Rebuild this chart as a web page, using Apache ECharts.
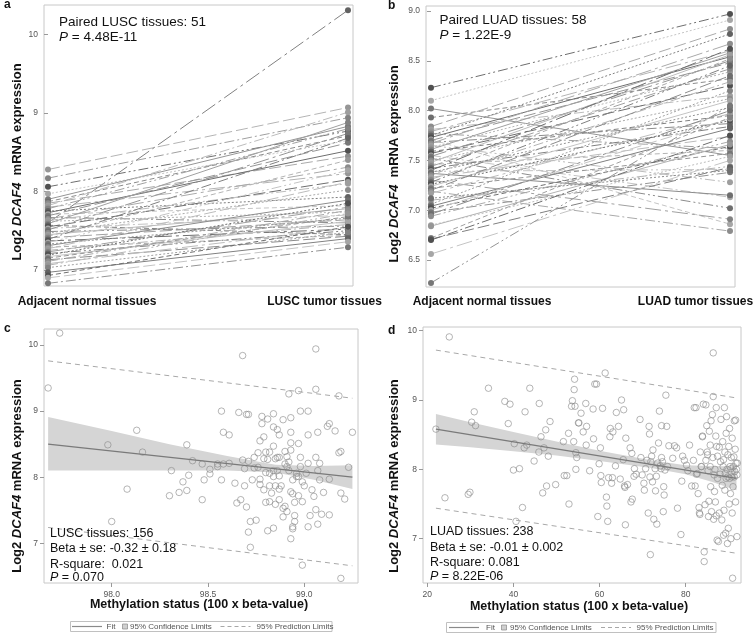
<!DOCTYPE html>
<html><head><meta charset="utf-8">
<script src="https://cdn.jsdelivr.net/npm/echarts@6/dist/echarts.min.js"></script>
<style>html,body{margin:0;padding:0;background:#fff}#c{width:755px;height:634px}</style>
</head><body><div id="c"></div>
<script>
// ---------- data ----------
const groups = ['Adjacent normal tissues', 'LUSC tumor tissues', 'LUAD tumor tissues'];

const luscNormal = [8.28,8.17,7.60,8.06,7.97,7.90,7.87,7.85,7.82,7.80,7.78,7.75,7.73,7.71,7.69,7.67,7.65,7.63,7.62,7.59,7.57,7.55,7.53,7.51,7.49,7.47,7.45,7.43,7.41,7.39,7.37,7.35,7.33,7.31,7.29,7.27,7.25,7.23,7.21,7.19,7.17,7.15,7.13,7.11,7.08,7.06,7.03,6.97,6.93,6.90,6.83];
const luscTumor  = [9.07,8.94,10.31,8.77,8.65,8.83,8.71,8.45,9.01,8.23,8.80,7.93,8.52,7.82,8.62,7.60,8.31,8.10,7.74,8.88,7.45,8.15,7.70,8.74,7.56,8.02,7.78,8.40,7.64,8.68,7.52,8.27,7.66,7.89,7.44,8.12,7.58,7.80,7.50,7.85,7.62,7.68,7.43,7.76,7.54,7.72,7.48,7.40,7.55,7.36,7.29];

const luadNormal = [8.23,8.10,8.02,7.93,7.84,7.81,7.79,7.77,7.75,7.73,7.71,7.70,7.68,7.67,7.65,7.63,7.61,7.59,7.57,7.55,7.54,7.52,7.50,7.48,7.46,7.44,7.42,7.40,7.39,7.38,7.37,7.35,7.33,7.31,7.30,7.28,7.26,7.24,7.22,7.20,7.19,7.17,7.10,7.06,7.04,7.02,7.00,6.98,6.96,6.94,6.85,6.84,6.72,6.71,6.70,6.56,6.27,7.12];
const luadTumor  = [8.97,8.91,7.55,8.32,8.82,8.15,8.60,7.62,8.77,8.54,6.86,8.48,7.87,8.67,7.28,8.39,8.58,7.95,8.25,7.13,8.50,7.02,8.12,8.56,7.60,8.42,7.84,8.62,7.41,8.03,7.15,8.52,7.74,8.29,6.91,8.45,7.90,8.10,7.57,8.35,6.79,7.97,7.44,8.20,7.82,7.64,7.92,7.38,8.00,7.69,7.54,7.66,7.93,7.43,7.75,7.50,8.05,7.40];

const luscMeth = [[97.73,10.18],[97.67,9.35],[97.98,8.49],[98.13,8.71],[98.16,8.38],[98.08,7.82],[98.00,7.33],[98.30,7.72],[98.31,8.10],[98.35,7.77],[98.37,7.93],[98.39,7.80],[98.39,8.49],[98.40,8.03],[98.42,8.25],[98.47,7.66],[98.47,8.20],[98.48,7.96],[98.51,8.05],[98.51,8.12],[98.55,8.16],[98.55,8.20],[98.57,7.96],[98.58,8.20],[98.57,9.00],[98.58,8.68],[98.61,8.64],[98.61,8.21],[98.64,7.91],[98.65,7.61],[98.66,8.98],[98.67,7.66],[98.68,9.84],[98.68,8.26],[98.69,8.13],[98.69,7.87],[98.70,8.95],[98.70,7.55],[98.71,8.95],[98.71,7.17],[98.72,7.33],[98.72,6.94],[98.73,7.96],[98.74,8.30],[98.75,7.35],[98.76,8.37],[98.76,8.15],[98.77,7.97],[98.77,7.89],[98.77,8.55],[98.78,8.81],[98.78,8.92],[98.79,8.28],[98.79,8.61],[98.80,8.38],[98.80,8.07],[98.80,7.62],[98.81,8.27],[98.81,7.19],[98.81,8.88],[98.82,7.63],[98.82,7.87],[98.82,8.38],[98.83,7.76],[98.84,7.23],[98.84,8.96],[98.84,8.76],[98.84,8.47],[98.84,8.10],[98.85,8.28],[98.85,7.59],[98.85,7.87],[98.86,8.10],[98.86,8.72],[98.86,8.30],[98.87,7.82],[98.87,7.66],[98.87,8.64],[98.87,8.30],[98.88,7.87],[98.89,7.40],[98.89,7.53],[98.89,8.87],[98.90,8.39],[98.90,8.20],[98.90,7.56],[98.91,8.31],[98.91,7.48],[98.91,8.16],[98.92,8.10],[98.92,8.23],[98.92,9.26],[98.93,7.07],[98.93,8.68],[98.93,8.90],[98.93,8.52],[98.93,8.41],[98.94,7.22],[98.94,7.75],[98.94,7.25],[98.95,7.42],[98.95,7.62],[98.95,7.33],[98.96,8.06],[98.96,8.01],[98.97,9.31],[98.97,8.51],[98.97,7.72],[98.97,8.01],[98.98,9.00],[98.98,8.30],[98.99,7.63],[98.99,6.67],[98.99,7.93],[99.00,7.87],[99.01,8.06],[99.02,8.64],[99.02,7.25],[99.02,9.00],[99.03,7.42],[99.04,7.81],[99.05,7.71],[99.06,7.51],[99.06,8.30],[99.06,9.94],[99.06,9.33],[99.07,8.68],[99.07,7.29],[99.07,8.10],[99.08,8.21],[99.08,7.96],[99.09,7.44],[99.10,7.77],[99.12,8.77],[99.13,8.81],[99.13,7.97],[99.13,7.43],[99.16,8.70],[99.18,9.23],[99.18,8.37],[99.19,7.76],[99.19,6.47],[99.19,8.39],[99.21,7.67],[99.23,8.15],[99.25,8.68],[98.74,8.14],[98.79,7.81],[98.93,7.78],[98.87,8.02],[98.84,8.01],[98.98,8.16],[98.71,8.24],[98.94,7.96],[98.82,8.06],[99.02,8.21]];

const luadMeth = [[25.1,9.91],[22.0,8.58],[24.1,7.59],[29.5,7.64],[29.9,7.67],[30.3,8.68],[30.9,8.83],[31.2,8.63],[34.2,9.17],[38.0,8.98],[38.8,8.66],[39.2,8.94],[40.0,7.99],[40.2,8.37],[40.6,7.25],[41.4,8.01],[42.1,7.45],[42.5,8.31],[42.7,8.83],[43.1,8.35],[43.8,9.17],[44.8,8.12],[45.9,8.25],[46.0,8.95],[46.4,8.47],[46.8,7.66],[47.1,8.31],[47.7,7.76],[48.1,8.19],[48.5,8.69],[49.8,7.78],[51.6,8.40],[51.8,7.91],[52.4,7.91],[52.8,8.52],[52.9,7.50],[53.5,8.91],[53.7,8.99],[54.0,8.40],[54.1,9.15],[54.2,9.30],[54.3,8.91],[54.5,8.00],[54.5,8.24],[54.7,8.17],[55.1,8.67],[55.2,8.67],[55.7,8.81],[56.2,8.54],[56.8,8.95],[56.9,8.35],[57.7,7.98],[58.5,8.87],[58.6,8.44],[58.9,9.23],[59.3,9.23],[59.6,7.32],[59.9,8.08],[60.2,8.31],[60.3,7.91],[60.4,7.81],[60.7,8.88],[61.3,9.39],[61.6,7.60],[61.7,7.47],[61.9,7.25],[62.1,7.88],[62.4,8.47],[62.5,8.59],[62.8,7.80],[63.1,8.54],[63.7,8.05],[63.9,8.82],[64.4,8.62],[64.8,7.86],[65.1,9.00],[65.5,8.14],[65.6,8.86],[65.8,7.76],[65.9,7.74],[66.0,7.20],[66.1,8.45],[67.1,8.31],[67.3,7.53],[67.5,8.23],[67.6,7.57],[68.0,7.90],[68.1,8.01],[68.5,7.93],[69.4,8.72],[69.6,8.17],[70.3,7.80],[70.4,7.70],[70.7,8.01],[71.0,8.13],[71.3,7.37],[71.5,8.62],[71.6,8.51],[71.7,7.89],[71.8,6.77],[71.9,8.11],[72.1,8.19],[72.3,7.82],[72.4,8.28],[72.6,7.28],[72.9,8.01],[73.0,7.69],[73.2,7.90],[73.3,7.21],[73.5,8.09],[73.7,8.38],[73.9,8.84],[74.1,8.05],[74.3,8.01],[74.4,8.63],[74.4,8.17],[74.6,8.11],[74.8,7.39],[74.9,7.75],[75.0,7.63],[75.2,7.99],[75.4,9.07],[75.6,8.62],[75.8,8.04],[76.1,8.34],[77.4,8.34],[77.9,8.31],[78.1,7.44],[78.9,7.06],[79.1,7.83],[79.3,8.19],[79.7,8.13],[80.2,8.06],[80.9,8.35],[81.4,7.76],[81.8,8.13],[82.0,8.89],[82.2,7.76],[82.4,8.89],[82.5,7.93],[82.7,7.94],[82.9,7.65],[83.1,7.45],[83.2,7.37],[83.3,7.35],[83.4,8.25],[83.6,8.04],[83.7,8.04],[83.9,8.47],[83.9,8.48],[84.1,8.94],[84.3,6.81],[84.3,6.67],[84.5,7.49],[84.7,8.13],[84.7,8.93],[84.9,8.63],[85.0,8.25],[85.1,8.21],[85.3,7.32],[85.4,7.54],[85.5,8.55],[85.7,8.35],[85.7,8.04],[85.8,7.75],[85.9,8.70],[86.0,7.39],[86.2,8.79],[86.3,8.17],[86.4,9.68],[86.4,9.05],[86.5,7.28],[86.6,7.92],[86.7,7.68],[86.8,8.00],[86.9,7.53],[87.0,8.48],[87.1,7.33],[87.1,8.89],[87.2,8.33],[87.3,6.98],[87.4,7.87],[87.4,8.19],[87.6,6.96],[87.8,7.37],[87.8,8.32],[88.0,7.93],[88.1,8.11],[88.2,8.72],[88.4,7.27],[88.5,7.77],[88.6,8.40],[88.7,8.04],[88.8,7.05],[88.8,8.14],[88.9,7.41],[89.0,8.89],[89.1,7.70],[89.1,8.25],[89.2,7.94],[89.3,7.08],[89.4,8.52],[89.4,7.87],[89.5,8.76],[89.6,8.00],[89.7,6.93],[89.8,8.21],[89.8,7.89],[89.9,7.15],[90.0,8.33],[90.1,7.50],[90.2,7.87],[90.2,8.59],[90.3,8.04],[90.4,7.65],[90.5,8.01],[90.5,7.00],[90.6,8.17],[90.7,7.89],[90.8,7.37],[90.8,8.45],[90.9,6.43],[91.0,7.75],[91.1,8.04],[91.2,8.18],[91.3,8.70],[91.3,7.89],[91.4,7.97],[91.5,8.29],[91.6,7.53],[91.6,8.71],[91.7,8.09],[91.8,8.00],[91.9,7.03],[91.9,7.92],[92.0,8.09],[66.5,7.78],[69.9,7.92],[77.0,8.16],[80.5,7.98],[47.5,8.57],[57.0,8.62],[63.0,7.88],[85.2,7.98]];

// regression summaries
const luscFitX = [97.67, 99.25], luscFitY = [8.50, 8.00];
const luscCiX  = [97.67, 98.0, 98.3, 98.6, 98.85, 99.05, 99.25];
const luscCiLo = [8.10, 8.10, 8.10, 8.10, 8.07, 7.96, 7.82];
const luscCiHi = [8.91, 8.70, 8.50, 8.32, 8.19, 8.17, 8.18];
const luscPredHi = [9.76, 9.195], luscPredLo = [7.24, 6.66];

const luadFitX = [22, 91.8], luadFitY = [8.58, 7.87];
const luadCiX  = [22, 30, 40, 50, 60, 72, 80, 86, 91.8];
const luadCiLo = [8.36, 8.32, 8.26, 8.20, 8.12, 8.02, 7.93, 7.82, 7.70];
const luadCiHi = [8.80, 8.68, 8.54, 8.40, 8.27, 8.13, 8.06, 8.05, 8.04];
const luadPredHi = [9.72, 9.03], luadPredLo = [7.44, 6.79];

const yTicksA = [7, 8, 9, 10];
const yTicksB = [6.5, 7, 7.5, 8, 8.5, 9];
const yTicksC = [7, 8, 9, 10], xTicksC = [98, 98.5, 99];
const yTicksD = [7, 8, 9, 10], xTicksD = [20, 40, 60, 80];

// ---------- styling ----------
const FF = '"Liberation Sans", Arial, Helvetica, sans-serif';
const grays = ['#b4b4b4','#a0a0a0','#808080','#6e6e6e','#c4c4c4','#959595','#8c8c8c','#aaaaaa','#bcbcbc'];
const dashes = [[12,4],[2,2],[10,3,2,3],'solid',[16,4,3,4],[5,3],[10,3,2,3,2,3]];

const chart = echarts.init(document.getElementById('c'), null, {renderer:'canvas'});

function yAx(gi, min, max, ticks, fmt) {
  return { type:'value', gridIndex:gi, min, max,
    axisLine:{show:false}, splitLine:{show:false},
    axisTick:{show:true, length:4, customValues:ticks, lineStyle:{color:'#999'}},
    axisLabel:{show:true, customValues:ticks, color:'#555', fontSize:8.5, fontFamily:FF, margin:6, formatter:fmt} };
}
function xAx(gi, min, max, ticks, fmt) {
  const o = { type:'value', gridIndex:gi, min, max, axisLine:{show:false}, splitLine:{show:false} };
  if (ticks) {
    o.axisTick = {show:true, length:4, customValues:ticks, lineStyle:{color:'#999'}};
    o.axisLabel = {show:true, customValues:ticks, color:'#555', fontSize:8.5, fontFamily:FF, margin:7, formatter:fmt};
  } else {
    o.axisTick = {show:false}; o.axisLabel = {show:false};
  }
  return o;
}
const f0 = v => String(Math.round(v));
const f1 = v => Number(v).toFixed(1);

const grid = [
  {left:44, top:5, width:309, height:281},
  {left:426, top:6, width:309, height:281},
  {left:44, top:329, width:314, height:254},
  {left:423, top:327, width:318, height:256}
].map(g => Object.assign(g, {show:true, borderColor:'#c8c8c8', borderWidth:1, backgroundColor:'transparent'}));

const xAxis = [
  xAx(0, -0.0133, 1.0167),
  xAx(1, -0.0167, 1.0167),
  xAx(2, 97.6485, 99.279, xTicksC, f1),
  xAx(3, 19.0, 92.85, xTicksD, f0)
];
const yAxis = [
  yAx(0, 6.796, 10.376, yTicksA, f0),
  yAx(1, 6.229, 9.05, yTicksB, f1),
  yAx(2, 6.40, 10.242, yTicksC, f0),
  yAx(3, 6.361, 10.053, yTicksD, f0)
];

const series = [];
function darker(hex) {
  const v = Math.max(0, parseInt(hex.slice(1,3),16) - 30);
  const h = v.toString(16).padStart(2,'0');
  return '#' + h + h + h;
}
function pairs(normal, tumor, gi, offset) {
  normal.forEach((v, i) => {
    const k = i + offset;
    const col = grays[k % grays.length];
    series.push({ type:'line', xAxisIndex:gi, yAxisIndex:gi, silent:true,
      data:[[0, v], [1, tumor[i]]],
      symbol:'circle', symbolSize:6, showSymbol:true,
      lineStyle:{color:col, width:1, type:dashes[(k*2) % dashes.length]},
      itemStyle:{color:darker(col)}, z:2 });
  });
}
pairs(luscNormal, luscTumor, 0, 0);
pairs(luadNormal, luadTumor, 1, 3);

function band(gi, xs, lo, hi) {
  series.push({ type:'custom', xAxisIndex:gi, yAxisIndex:gi, silent:true, z:1,
    data:[[xs[0], lo[0]]],
    renderItem:(p, api) => {
      const pts = [];
      for (let i = 0; i < xs.length; i++) pts.push(api.coord([xs[i], hi[i]]));
      for (let i = xs.length - 1; i >= 0; i--) pts.push(api.coord([xs[i], lo[i]]));
      return {type:'polygon', shape:{points:pts}, style:{fill:'#d5d5d5', stroke:null}};
    }});
}
function reg(gi, pts, fx, fy, cx, clo, chi, phi, plo) {
  band(gi, cx, clo, chi);
  series.push({ type:'scatter', xAxisIndex:gi, yAxisIndex:gi, silent:true, z:3, data:pts,
    symbol:'circle', symbolSize:6.5,
    itemStyle:{color:'rgba(0,0,0,0)', borderColor:'#8a8a8a', borderWidth:0.8} });
  series.push({ type:'line', xAxisIndex:gi, yAxisIndex:gi, silent:true, z:4, showSymbol:false, symbol:'none',
    data:[[fx[0], fy[0]], [fx[1], fy[1]]], lineStyle:{color:'#7a7a7a', width:1.3} });
  series.push({ type:'line', xAxisIndex:gi, yAxisIndex:gi, silent:true, z:4, symbol:'none',
    data:[[fx[0], phi[0]], [fx[1], phi[1]]], lineStyle:{color:'#a8a8a8', width:1, type:[5,4]} });
  series.push({ type:'line', xAxisIndex:gi, yAxisIndex:gi, silent:true, z:4, symbol:'none',
    data:[[fx[0], plo[0]], [fx[1], plo[1]]], lineStyle:{color:'#a8a8a8', width:1, type:[5,4]} });
}
reg(2, luscMeth, luscFitX, luscFitY, luscCiX, luscCiLo, luscCiHi, luscPredHi, luscPredLo);
reg(3, luadMeth, luadFitX, luadFitY, luadCiX, luadCiLo, luadCiHi, luadPredHi, luadPredLo);

// ---------- texts ----------
function T(x, y, text, size, opt) {
  opt = opt || {};
  const st = { text, fill: opt.fill || '#111', fontFamily:FF, fontSize:size,
    fontWeight: opt.bold ? 'bold' : 'normal',
    align: opt.align || 'left', textAlign: opt.align || 'left',
    verticalAlign:'middle', textVerticalAlign:'middle' };
  if (opt.rich) st.rich = opt.rich;
  return { type:'text', x, y, rotation: opt.rot || 0, silent:true, z:10, style:st };
}
function richSet(size, bold, fill) {
  const w = bold ? 'bold' : 'normal';
  return { n:{fontFamily:FF, fontSize:size, fontWeight:w, fill:fill||'#111'},
           i:{fontFamily:FF, fontSize:size, fontWeight:w, fontStyle:'italic', fill:fill||'#111'} };
}
const g = [];
g.push(T(4, 4.5, 'a', 12, {bold:true}));
g.push(T(388, 6, 'b', 12, {bold:true}));
g.push(T(4, 328.5, 'c', 12, {bold:true}));
g.push(T(388, 331, 'd', 12, {bold:true}));
const yt1 = '{n|Log2 }{i|DCAF4}{n|  mRNA expression}';
const yt2 = '{n|Log2 }{i|DCAF4}{n| mRNA expression}';
g.push(T(17.5, 162, yt1, 13, {bold:true, align:'center', rot:Math.PI/2, rich:richSet(13, true)}));
g.push(T(394, 164, yt1, 13, {bold:true, align:'center', rot:Math.PI/2, rich:richSet(13, true)}));
g.push(T(17, 476, yt2, 13, {bold:true, align:'center', rot:Math.PI/2, rich:richSet(13, true)}));
g.push(T(394, 476, yt2, 13, {bold:true, align:'center', rot:Math.PI/2, rich:richSet(13, true)}));
g.push(T(87, 302, groups[0], 12, {bold:true, align:'center'}));
g.push(T(324.5, 302, groups[1], 12, {bold:true, align:'center'}));
g.push(T(482, 302, groups[0], 12, {bold:true, align:'center'}));
g.push(T(695.5, 302, groups[2], 12, {bold:true, align:'center'}));
g.push(T(59, 22, 'Paired LUSC tissues: 51', 13.5));
g.push(T(59, 37.5, '{i|P}{n| = 4.48E-11}', 13.5, {rich:richSet(13.5, false)}));
g.push(T(439.5, 20, 'Paired LUAD tissues: 58', 13.5));
g.push(T(439.5, 35.5, '{i|P}{n| = 1.22E-9}', 13.5, {rich:richSet(13.5, false)}));
const cL = ['LUSC tissues: 156', 'Beta ± se: -0.32 ± 0.18', 'R-square:  0.021'];
const dL = ['LUAD tissues: 238', 'Beta ± se: -0.01 ± 0.002', 'R-square: 0.081'];
const cY = [533.3, 549, 564.3, 578], dY = [531.7, 547.5, 562.5, 577];
cL.forEach((t, i) => g.push(T(50, cY[i], t, 12.5)));
g.push(T(50, cY[3], '{i|P}{n| = 0.070}', 12.5, {rich:richSet(12.5, false)}));
dL.forEach((t, i) => g.push(T(430, dY[i], t, 12.5)));
g.push(T(430, dY[3], '{i|P}{n| = 8.22E-06}', 12.5, {rich:richSet(12.5, false)}));
g.push(T(199, 605, 'Methylation status (100 x beta-value)', 12.5, {bold:true, align:'center'}));
g.push(T(579, 606.5, 'Methylation status (100 x beta-value)', 12.5, {bold:true, align:'center'}));
function legend(bx, by, bw, p) {
  const cy = by + 5;
  g.push({type:'rect', silent:true, shape:{x:bx, y:by, width:bw, height:10}, style:{fill:'#fff', stroke:'#c0c0c0', lineWidth:1}, z:9});
  g.push({type:'line', silent:true, shape:{x1:p[0], y1:cy, x2:p[0]+30, y2:cy}, style:{stroke:'#8a8a8a', lineWidth:1.2}, z:10});
  g.push(T(p[1], cy, 'Fit', 8, {fill:'#555'}));
  g.push({type:'rect', silent:true, shape:{x:p[2], y:cy-2.5, width:5, height:5}, style:{fill:'#d0d0d0', stroke:'#888', lineWidth:0.7}, z:10});
  g.push(T(p[3], cy, '95% Confidence Limits', 8, {fill:'#555'}));
  g.push({type:'line', silent:true, shape:{x1:p[4], y1:cy, x2:p[4]+30, y2:cy}, style:{stroke:'#a8a8a8', lineWidth:1, lineDash:[4,3]}, z:10});
  g.push(T(p[5], cy, '95% Prediction Limits', 8, {fill:'#555'}));
}
legend(70.5, 621.5, 261.5, [72, 106.5, 122.5, 130, 220.5, 256.5]);
legend(446.5, 622.5, 269.5, [449, 486, 501.5, 510, 601, 636.5]);

chart.setOption({ animation:false, grid, xAxis, yAxis, series, graphic:g });
</script></body></html>
